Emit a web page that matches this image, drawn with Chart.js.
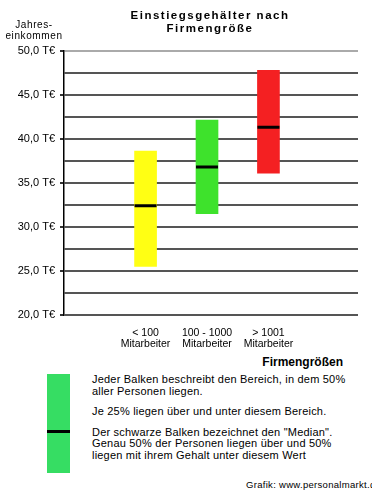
<!DOCTYPE html>
<html lang="de">
<head>
<meta charset="utf-8">
<title>Einstiegsgehälter nach Firmengröße</title>
<script src="https://cdn.jsdelivr.net/npm/chart.js@4/dist/chart.umd.min.js"></script>
<style>
  html, body { margin: 0; padding: 0; background: #fff; }
  body { width: 372px; height: 491px; overflow: hidden; position: relative;
         font-family: "Liberation Sans", Arial, sans-serif; color: #000; }
  #wrap { position: absolute; left: 0; top: 0; width: 372px; height: 355px; }
  .t { position: absolute; white-space: nowrap; }
  #title { left: 60px; width: 300px; top: 9px; text-align: center; font-weight: bold;
           font-size: 11.5px; line-height: 13px; letter-spacing: 1.5px; }
  #ytitle { left: 0; width: 68px; top: 19px; text-align: center; font-size: 10px;
            line-height: 11px; letter-spacing: 0.6px; }
  #xtitle { right: 29px; top: 355px; font-weight: bold; font-size: 12px; }
  #key { left: 47px; top: 374px; width: 23px; height: 99px; background: #36dd63; }
  #keymed { position: absolute; left: 0; top: 56px; width: 23px; height: 3px; background: #000; }
  #note { left: 92px; top: 374px; font-size: 11px; line-height: 11.6px; letter-spacing: 0.2px; }
  #note p { margin: 0 0 9px 0; }
  #src { left: 246px; top: 479px; font-size: 9.5px; letter-spacing: 0.3px; }
</style>
</head>
<body>
<div id="wrap"><canvas id="c"></canvas></div>
<div class="t" id="title">Einstiegsgehälter nach<br>Firmengröße</div>
<div class="t" id="ytitle">Jahres-<br>einkommen</div>
<div class="t" id="xtitle">Firmengrößen</div>
<div class="t" id="key"><div id="keymed"></div></div>
<div class="t" id="note">
  <p>Jeder Balken beschreibt den Bereich, in dem 50%<br>aller Personen liegen.</p>
  <p>Je 25% liegen über und unter diesem Bereich.</p>
  <p>Der schwarze Balken bezeichnet den "Median".<br>Genau 50% der Personen liegen über und 50%<br>liegen mit ihrem Gehalt unter diesem Wert</p>
</div>
<div class="t" id="src">Grafik: www.personalmarkt.de</div>
<script>
// Firmengrößen-Kategorien (mehrzeilige Achsenbeschriftung)
const categories = [["< 100", "Mitarbeiter"], ["100 - 1000", "Mitarbeiter"], ["> 1001", "Mitarbeiter"]];
// Unteres und oberes Quartil sowie Median, in Tausend Euro
const lowerQuartile = [25.5, 31.5, 36.1];
const upperQuartile = [38.6, 42.1, 47.75];
const medianValue   = [32.4, 36.8, 41.3];
const barColors     = ["#ffff14", "#3ee22c", "#f42022"];
// Y-Achse
const yMin = 20, yMax = 50, yStep = 2.5;

const rangeData = categories.map((_, i) => ({ x: i, y: [lowerQuartile[i], upperQuartile[i]] }));
const medianData = categories.map((_, i) => ({ x: i, y: medianValue[i] }));

const euro = v => v.toFixed(1).replace('.', ',') + ' T€';

new Chart(document.getElementById('c'), {
  type: 'bar',
  data: {
    datasets: [
      {
        type: 'line',
        data: medianData,
        showLine: false,
        pointStyle: 'line',
        pointRadius: 11,
        pointHoverRadius: 11,
        pointBorderWidth: 3,
        pointHoverBorderWidth: 3,
        pointBorderColor: '#000',
        pointBackgroundColor: '#000',
        order: 0
      },
      {
        data: rangeData,
        backgroundColor: barColors,
        borderWidth: 0,
        barThickness: 22,
        order: 1
      }
    ]
  },
  options: {
    responsive: true,
    maintainAspectRatio: false,
    animation: false,
    events: [],
    layout: { padding: { top: 50.5, right: 1, left: 0, bottom: 0 } },
    plugins: { legend: { display: false }, tooltip: { enabled: false }, title: { display: false } },
    scales: {
      x: {
        type: 'linear',
        min: -0.53,
        max: 2.66,
        afterFit: s => { s.height = 40; },
        grid: { display: false, drawTicks: false },
        border: { display: false },
        ticks: {
          stepSize: 1,
          includeBounds: false,
          autoSkip: false,
          maxRotation: 0,
          padding: 12,
          color: '#000',
          font: { family: '"Liberation Sans", Arial, sans-serif', size: 10.5, lineHeight: 1.1 },
          callback: v => Number.isInteger(v) && categories[v] ? categories[v] : ''
        }
      },
      y: {
        min: yMin,
        max: yMax,
        afterFit: s => { s.width = 64; },
        grid: {
          color: c => (c.tick && c.tick.value === yMax) ? '#aaa' : '#555',
          lineWidth: 2,
          tickLength: 4,
          tickColor: c => (c.tick && c.tick.value % 5 === 0) ? '#333' : 'rgba(0,0,0,0)'
        },
        border: { display: true, color: '#000', width: 1.5 },
        ticks: {
          stepSize: yStep,
          autoSkip: false,
          padding: 5,
          color: '#000',
          font: { family: '"Liberation Sans", Arial, sans-serif', size: 11 },
          callback: v => (v % 5 === 0) ? euro(v) : ''
        }
      }
    }
  }
});
</script>
</body>
</html>
